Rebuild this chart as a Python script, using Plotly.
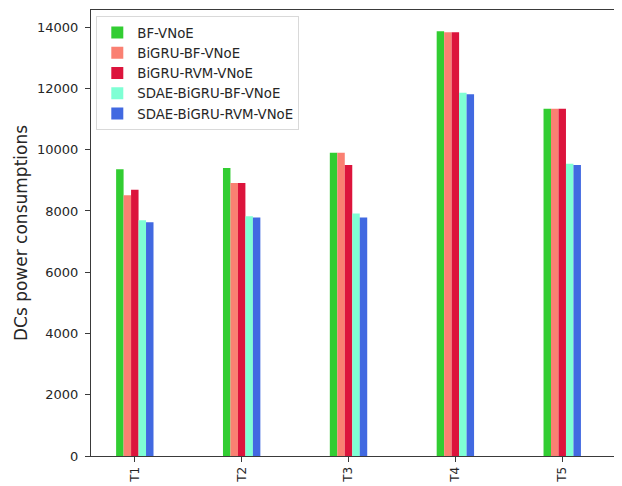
import plotly.graph_objects as go

categories = ["T1", "T2", "T3", "T4", "T5"]
series_names = ["BF-VNoE", "BiGRU-BF-VNoE", "BiGRU-RVM-VNoE", "SDAE-BiGRU-BF-VNoE", "SDAE-BiGRU-RVM-VNoE"]
bf_vnoe = [9360, 9400, 9900, 13870, 11340]
bigru_bf_vnoe = [8510, 8910, 9900, 13830, 11340]
bigru_rvm_vnoe = [8690, 8910, 9500, 13830, 11340]
sdae_bigru_bf_vnoe = [7700, 7830, 7920, 11860, 9540]
sdae_bigru_rvm_vnoe = [7630, 7790, 7790, 11810, 9500]
colors = ["#32CD32", "#FA8072", "#DC143C", "#7FFFD4", "#4169E1"]
y_ticks = [0, 2000, 4000, 6000, 8000, 10000, 12000, 14000]

all_series = [bf_vnoe, bigru_bf_vnoe, bigru_rvm_vnoe, sdae_bigru_bf_vnoe, sdae_bigru_rvm_vnoe]

fig = go.Figure()
for name, vals, col in zip(series_names, all_series, colors):
    fig.add_trace(go.Bar(x=categories, y=vals, name=name,
                         marker=dict(color=col, line=dict(width=0))))

fig.update_layout(
    width=614, height=478,
    margin=dict(l=83, r=1, t=2, b=30),
    paper_bgcolor="white", plot_bgcolor="white",
    barmode="group", bargap=0.65, bargroupgap=0,
    font=dict(family="DejaVu Sans", color="#262626"),
    legend=dict(x=0.01, y=0.986, xanchor="left", yanchor="top",
                bgcolor="rgba(255,255,255,0.8)", bordercolor="#d9d9d9", borderwidth=1,
                font=dict(size=13.3, family="DejaVu Sans", color="#262626")),
    showlegend=True,
)
fig.update_xaxes(range=[-0.41, 4.55], showline=True, linecolor="#3a3a3a", linewidth=1, mirror=True,
                 ticks="outside", ticklen=5, tickcolor="#3a3a3a", tickangle=-90,
                 tickfont=dict(size=12), showgrid=False)
fig.update_yaxes(range=[0, 14560], tickvals=y_ticks, tickformat="d", showline=True, linecolor="#3a3a3a",
                 linewidth=1, mirror=True, ticks="outside", ticklen=5, tickcolor="#3a3a3a",
                 ticklabelstandoff=4,
                 tickfont=dict(size=13), showgrid=False, zeroline=False,
                 title=dict(text="DCs power consumptions", font=dict(size=17), standoff=5))

fig.write_html("out.html")
